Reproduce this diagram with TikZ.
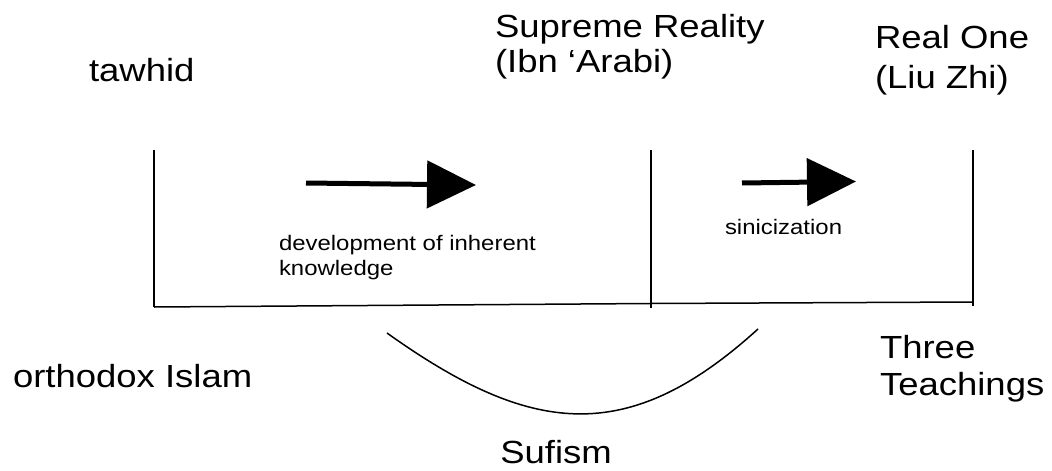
\documentclass[tikz,border=0pt]{standalone}
\usepackage{fontspec}
\setmainfont{Liberation Sans}[FakeStretch=1.14]
\usetikzlibrary{arrows.meta}
\begin{document}
\begin{tikzpicture}[x=1pt,y=-1pt,
  big/.style={inner sep=0pt, outer sep=0pt, align=left, font=\fontsize{32}{35}\selectfont},
  small/.style={inner sep=0pt, outer sep=0pt, align=left, font=\fontsize{21}{25}\selectfont},
  thinline/.style={line width=1.5pt, black},
  fatarrow/.style={line width=5pt, -{Triangle[length=49pt,width=47pt]}}]
\useasboundingbox[fill=white] (0,0) rectangle (1052,471);
% texts
\node[big, anchor=base west] (tawhid) at (89,81) {tawhid};
\node[big, anchor=north west] (supreme) at (495,14) {Supreme Reality\\(Ibn ‘Arabi)};
\node[big, anchor=north west, font=\fontsize{32}{40}\selectfont] (realone) at (875,25) {Real One\\(Liu Zhi)};
\node[big, anchor=base west] (orthodox) at (13,387) {orthodox Islam};
\node[big, anchor=north west, font=\fontsize{32}{37}\selectfont] (three) at (880,335) {Three\\Teachings};
\node[big, anchor=base] (sufism) at (556,463) {Sufism};
\node[small, anchor=north west] (devel) at (279,235) {development of inherent\\knowledge};
\node[small, anchor=base west] (sinic) at (725,234) {sinicization};
% frame coordinates
\coordinate (lt) at (154,150);
\coordinate (lb) at (154,307);
\coordinate (mt) at (651,150);
\coordinate (mb) at (651,308);
\coordinate (mh) at (651,303.5);
\coordinate (rt) at (973,150);
\coordinate (rb) at (973,306);
\coordinate (rh) at (973,302);
\draw[thinline] (lt) -- (lb);
\draw[thinline] (mt) -- (mb);
\draw[thinline] (rt) -- (rb);
\draw[thinline] (lb) -- (mh) -- (rh);
% arrows
\coordinate (a1s) at (306,183);
\coordinate (a1e) at (476,185);
\coordinate (a2s) at (742,183);
\coordinate (a2e) at (856,181.5);
\draw[fatarrow] (a1s) -- (a1e);
\draw[fatarrow] (a2s) -- (a2e);
% curve
\coordinate (cs) at (387,333);
\coordinate (ce) at (758,329);
\draw[thinline] (cs) .. controls (530,435) and (627,448) .. (ce);
\end{tikzpicture}
\end{document}
